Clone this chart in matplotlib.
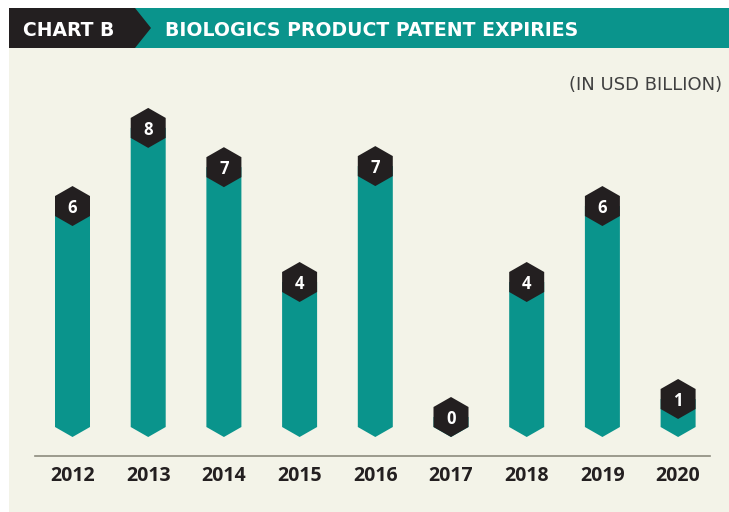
import matplotlib
matplotlib.use("Agg")
import matplotlib.pyplot as plt
from matplotlib.patches import Polygon, Rectangle

plt.rcParams["font.family"] = ["Open Sans", "DejaVu Sans"]

# data (USD billion), heights, labels as printed
YEARS = ["2012", "2013", "2014", "2015", "2016", "2017", "2018", "2019", "2020"]
VALUES = [5.86, 8.03, 6.94, 3.75, 6.97, 0.0, 3.75, 5.86, 0.5]
LABELS = ["6", "8", "7", "4", "7", "0", "4", "6", "1"]

TEAL = "#0a948c"
DARK = "#231f20"
BG = "#f3f3e8"
W, H = 729, 512

fig = plt.figure(figsize=(W / 100, H / 100), dpi=100, facecolor="white")

# beige panel + header band (figure pixel coords -> fractions)
def fx(p): return p / W
def fy(p): return 1 - p / H

fig.patches.append(Rectangle((fx(9), 0), 1 - fx(9), fy(48), transform=fig.transFigure,
                             facecolor=BG, edgecolor="none", zorder=-2))
fig.patches.append(Rectangle((fx(135), fy(48)), 1 - fx(135), fy(8) - fy(48),
                             transform=fig.transFigure, facecolor=TEAL,
                             edgecolor="none", zorder=-1))
fig.patches.append(Polygon([(fx(9), fy(8)), (fx(135), fy(8)), (fx(151), fy(28)),
                            (fx(135), fy(48)), (fx(9), fy(48))],
                           transform=fig.transFigure, facecolor=DARK,
                           edgecolor="none", zorder=-1))
HEAD = ["DejaVu Sans"]
fig.text(fx(23), fy(28), "CHART B", color="white", fontsize=13.5, fontweight="bold",
         family=HEAD, ha="left", va="center_baseline", zorder=3)
fig.text(fx(165), fy(28), "BIOLOGICS PRODUCT PATENT EXPIRIES", color="white",
         fontsize=13.6, fontweight="bold", family=HEAD, ha="left",
         va="center_baseline", zorder=3)
fig.text(fx(722), fy(83), "(IN USD BILLION)", color="#404040", fontsize=13,
         family=HEAD, ha="right", va="center_baseline")

# chart axes: line at y=456px, x from 35 to 710px; first bar at 72.5px, step 75.7px
ax_l, ax_r, ax_b, ax_t = 35, 710, 456, 100
ax = fig.add_axes([fx(ax_l), fy(ax_b), fx(ax_r - ax_l), (ax_b - ax_t) / H])
ax.set_zorder(5)
ax.set_facecolor("none")
x0, x1 = (35 - 72.5) / 75.7, (710 - 72.5) / 75.7
y0, y1 = (417 - 456) / 36, (417 - 100) / 36
ax.set_xlim(x0, x1)
ax.set_ylim(y0, y1)

ppx = (ax_r - ax_l) / (x1 - x0)
ppy = (ax_b - ax_t) / (y1 - y0)
hw = 17.5 / ppx  # half bar / hexagon width
dy = 10 / ppy    # half hexagon side

for i, (v, lab) in enumerate(zip(VALUES, LABELS)):
    ax.add_patch(Polygon([(i - hw, v), (i + hw, v), (i + hw, -dy), (i, -2 * dy),
                          (i - hw, -dy)], facecolor=TEAL, edgecolor="none", zorder=2))
    ax.add_patch(Polygon([(i, v + 2 * dy), (i + hw, v + dy), (i + hw, v - dy),
                          (i, v - 2 * dy), (i - hw, v - dy), (i - hw, v + dy)],
                         facecolor=DARK, edgecolor="none", zorder=3))
    ax.text(i, v, lab, color="white", fontsize=12, fontweight="bold",
            ha="center", va="center_baseline", zorder=4)

ax.set_xticks(range(len(YEARS)))
ax.set_xticklabels(YEARS, fontsize=14, fontweight="bold", color=DARK)
ax.tick_params(axis="x", length=0, pad=7)
ax.set_yticks([])
for s in ("top", "left", "right"):
    ax.spines[s].set_visible(False)
ax.spines["bottom"].set_color("#8c8b7e")
ax.spines["bottom"].set_linewidth(1.2)

fig.savefig("out.png", dpi=100, facecolor="white")
